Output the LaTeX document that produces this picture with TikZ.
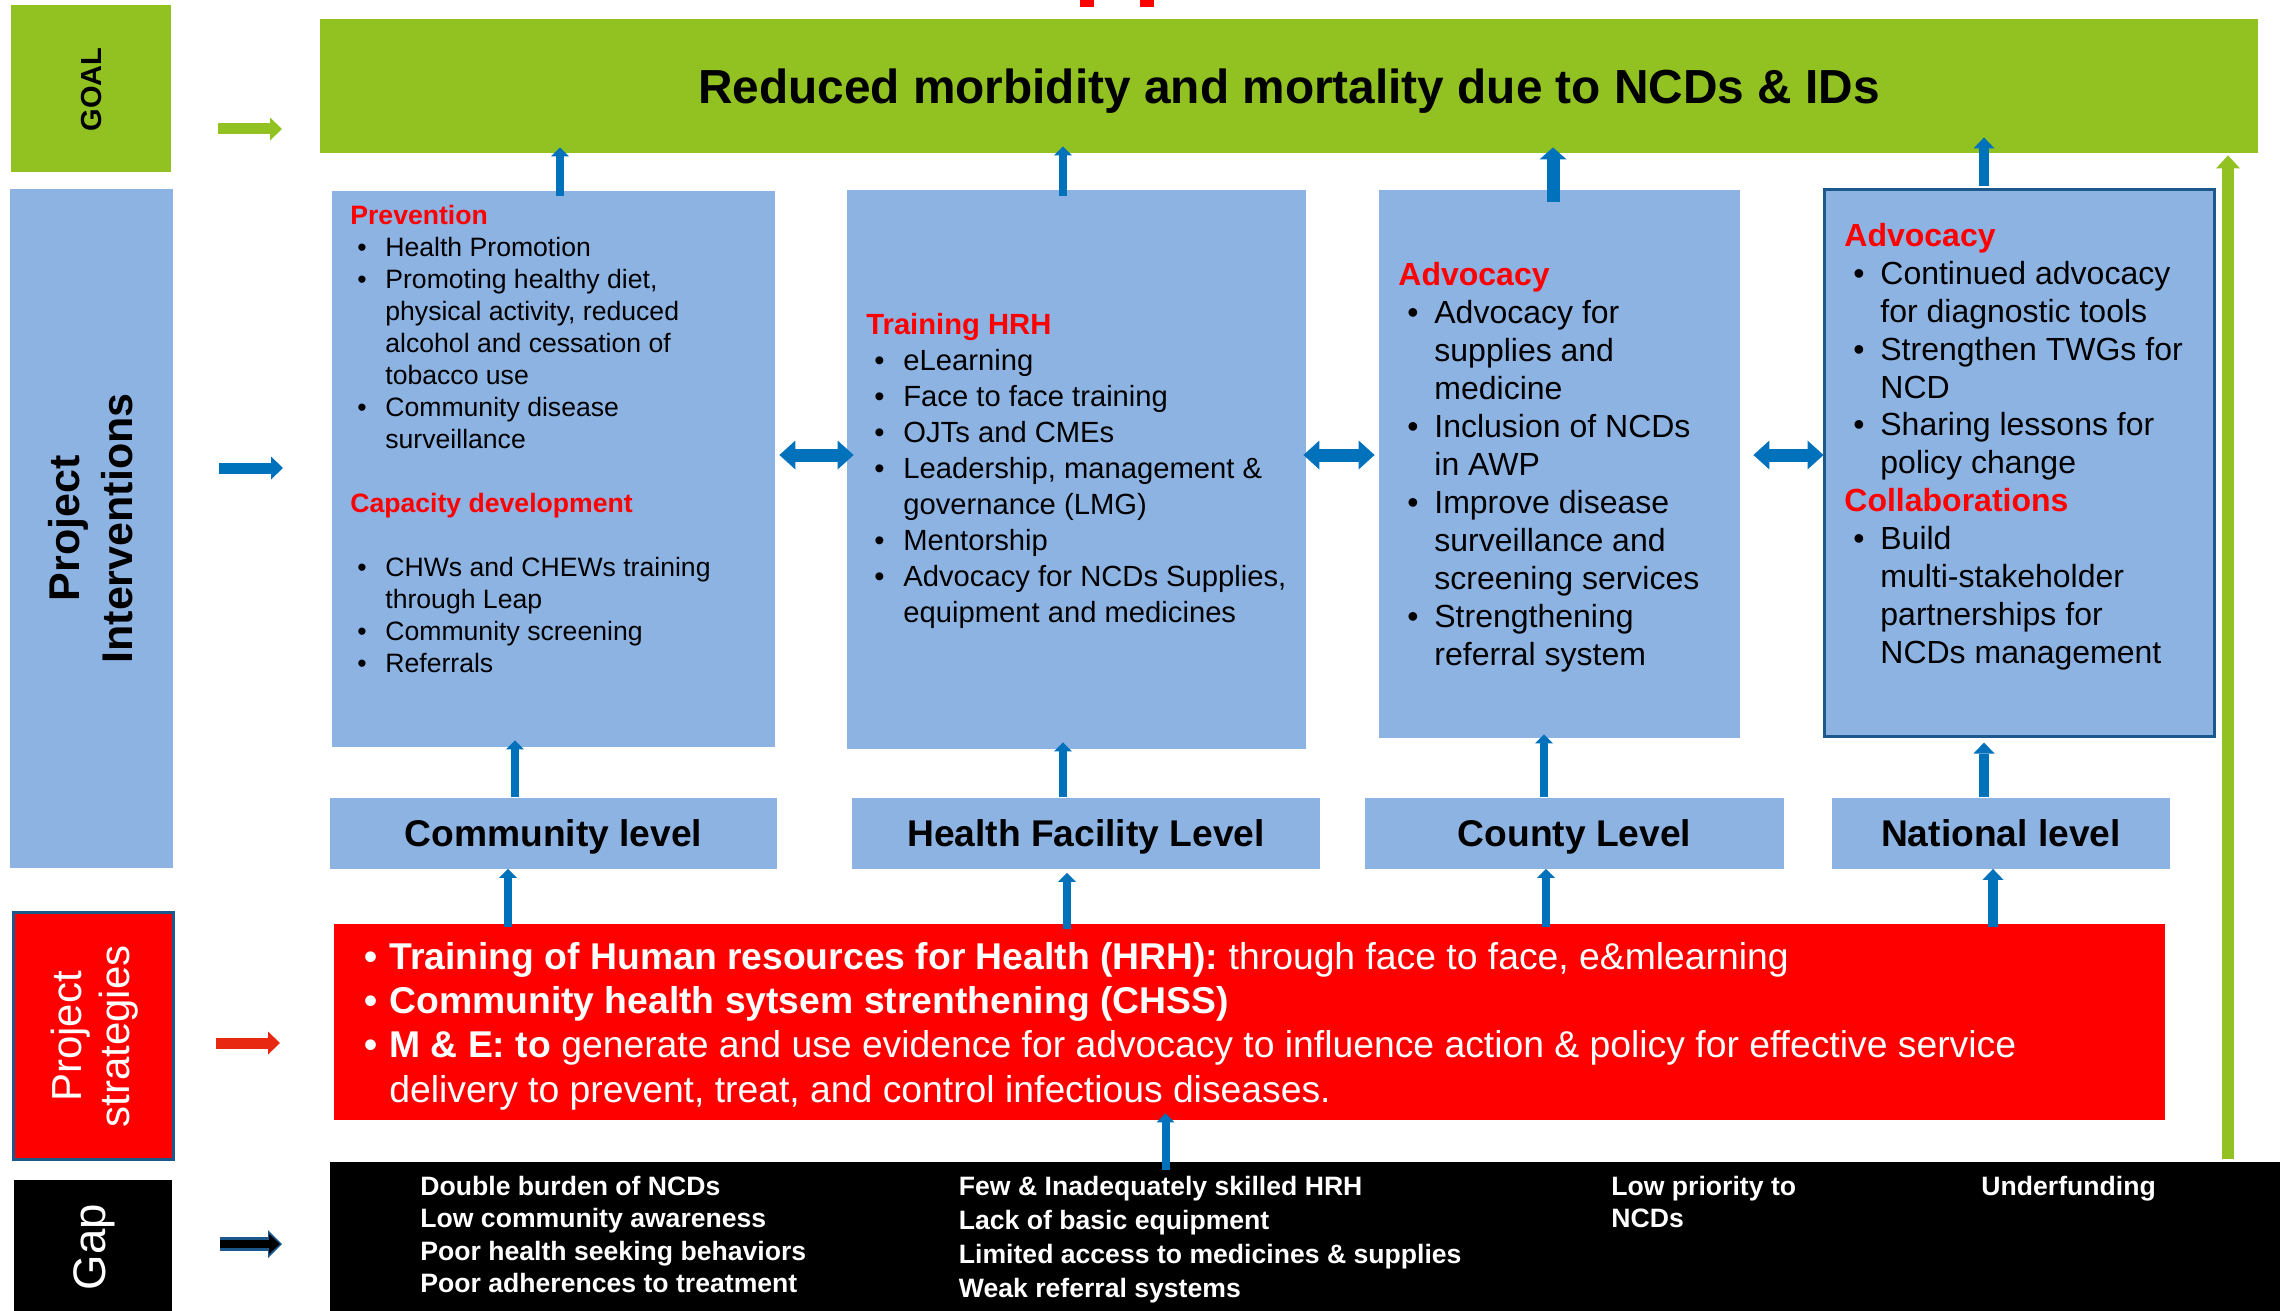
\documentclass[tikz,border=0pt]{standalone}
\usepackage{fontspec}
\setmainfont{Liberation Sans}
\usetikzlibrary{arrows.meta}

\definecolor{goalgreen}{RGB}{146,193,34}
\definecolor{boxblue}{RGB}{141,179,227}
\definecolor{arrowblue}{RGB}{0,114,188}
\definecolor{edgeblue}{RGB}{28,88,140}
\definecolor{stratarrow}{RGB}{232,40,16}

\newcommand{\hd}[1]{\multicolumn{2}{@{}l@{}}{\color{red}\bfseries #1}}

\tikzset{
  panel/.style={fill=boxblue, inner sep=0pt},
  lvlbox/.style={fill=boxblue, inner sep=0pt, minimum height=35.5pt,
    text height=13.3pt, text depth=0pt, font=\bfseries\fontsize{18.6}{22}\selectfont},
  listtext/.style={anchor=base west, inner sep=0pt},
  gaptext/.style={anchor=base west, inner sep=0pt, text=white,
    font=\bfseries\fontsize{13.3}{16.3}\selectfont},
  uparr/.style n args={3}{arrowblue, line width=#1,
    -{Triangle[length=#2, width=#3, line width=0pt]}},
  twoway/.style={arrowblue, line width=6.5pt,
    {Triangle[length=8pt, width=14.5pt, line width=0pt]}-{Triangle[length=8pt, width=14.5pt, line width=0pt]}},
  sidearr/.style={line width=5.5pt, -{Triangle[length=6pt, width=11.5pt, line width=0pt]}},
}

\begin{document}
\begin{tikzpicture}[x=0.5pt, y=-0.5pt]
    \useasboundingbox (0,0) rectangle (2280,1311);

    \fill[red] (1080,0) rectangle (1094,7);
    \fill[red] (1140,0) rectangle (1154,7);

    % row labels on the left
    \node[fill=goalgreen, inner sep=0pt, minimum width=80pt, minimum height=83.5pt] (goallbl) at (91,88.5) {};
    \node[rotate=90, inner sep=0pt, text height=10.4pt, text depth=0pt, font=\bfseries\fontsize{14.5}{17}\selectfont] (goaltxt) at (91,89.5) {GOAL};
    \node[panel, minimum width=81.5pt, minimum height=339.5pt] (intlbl) at (91.5,528.5) {};
    \node[rotate=90, align=center, inner sep=0pt, font=\bfseries\fontsize{21.5}{26.5}\selectfont] (inttxt) at (91,528.5) {Project\\Interventions};
    \node[fill=red, draw=edgeblue, line width=1.5pt, inner sep=0pt, minimum width=80pt, minimum height=123.5pt] (stratlbl) at (93,1035.5) {};
    \node[rotate=90, align=center, inner sep=0pt, text=white, font=\fontsize{21}{24}\selectfont] (strattxt) at (94.5,1036.5) {Project\\strategies};
    \node[fill=black, inner sep=0pt, minimum width=78.75pt, minimum height=65.75pt] (gaplbl) at (93,1245.5) {};
    \node[rotate=90, inner sep=0pt, text=white, text height=16.3pt, text depth=0pt, font=\fontsize{22.8}{27}\selectfont] (gaptxt) at (89,1247) {Gap};

    \coordinate (ga) at (218,129);   \coordinate (gb) at (282,129);
    \coordinate (ia) at (219,468);   \coordinate (ib) at (283,468);
    \coordinate (sa) at (216,1043);  \coordinate (sb) at (280,1043);
    \coordinate (pa) at (220,1244);  \coordinate (pb) at (282,1244);
    \draw[sidearr, goalgreen] (ga) -- (gb);
    \draw[sidearr, arrowblue] (ia) -- (ib);
    \draw[sidearr, stratarrow] (sa) -- (sb);
    \draw[edgeblue, line width=7pt, -{Triangle[length=7pt, width=14pt, line width=0pt]}] (pa) -- (pb);
    \draw[black, line width=4pt, -{Triangle[length=5.5pt, width=10pt, line width=0pt]}] (pa) -- ([xshift=-1pt]pb);

    % goal
    \node[fill=goalgreen, inner sep=0pt, minimum width=969pt, minimum height=67pt,
        text height=17.1pt, text depth=0pt, font=\bfseries\fontsize{23.9}{28}\selectfont] (goalbar) at (1289,86)
        {Reduced morbidity and mortality due to NCDs \& IDs};

    % interventions
    \node[panel, minimum width=221.5pt, minimum height=278pt] (prev) at (553.5,469) {};
    \node[panel, minimum width=229.5pt, minimum height=279.5pt] (train) at (1076.5,469.5) {};
    \node[panel, minimum width=180.5pt, minimum height=274pt] (advo) at (1559.5,464) {};
    \node[panel, draw=edgeblue, line width=1.5pt, minimum width=195pt, minimum height=273.5pt] (natl) at (2019,462.5) {};

    \node[listtext, font=\fontsize{13.3}{16}\selectfont] (prevlist) at (350,224) {%
        \begin{tabular}[t]{@{\hspace{3.5pt}}p{14pt}@{}l@{}}
        \hd{Prevention}\\
        \textbullet & Health Promotion\\
        \textbullet & Promoting healthy diet,\\
        & physical activity, reduced\\
        & alcohol and cessation of\\
        & tobacco use\\
        \textbullet & Community disease\\
        & surveillance\\
        & \\
        \hd{Capacity development}\\
        & \\
        \textbullet & CHWs and CHEWs training\\
        & through Leap\\
        \textbullet & Community screening\\
        \textbullet & Referrals
        \end{tabular}};
    \node[listtext, font=\fontsize{14.6}{18}\selectfont] (trainlist) at (866,334.6) {%
        \begin{tabular}[t]{@{\hspace{4pt}}p{14.5pt}@{}l@{}}
        \hd{Training HRH}\\
        \textbullet & eLearning\\
        \textbullet & Face to face training\\
        \textbullet & OJTs and CMEs\\
        \textbullet & Leadership, management \&\\
        & governance (LMG)\\
        \textbullet & Mentorship\\
        \textbullet & Advocacy for NCDs Supplies,\\
        & equipment and medicines
        \end{tabular}};
    \node[listtext, font=\fontsize{16}{19}\selectfont] (advolist) at (1398,285) {%
        \begin{tabular}[t]{@{\hspace{4.5pt}}p{13.5pt}@{}l@{}}
        \hd{Advocacy}\\
        \textbullet & Advocacy for\\
        & supplies and\\
        & medicine\\
        \textbullet & Inclusion of NCDs\\
        & in AWP\\
        \textbullet & Improve disease\\
        & surveillance and\\
        & screening services\\
        \textbullet & Strengthening\\
        & referral system
        \end{tabular}};
    \node[listtext, font=\fontsize{16}{18.93}\selectfont] (natllist) at (1844,246.6) {%
        \begin{tabular}[t]{@{\hspace{4.5pt}}p{13.5pt}@{}l@{}}
        \hd{Advocacy}\\
        \textbullet & Continued advocacy\\
        & for diagnostic tools\\
        \textbullet & Strengthen TWGs for\\
        & NCD\\
        \textbullet & Sharing lessons for\\
        & policy change\\
        \hd{Collaborations}\\
        \textbullet & Build\\
        & multi-stakeholder\\
        & partnerships for\\
        & NCDs management
        \end{tabular}};

    \coordinate (m) at (0,455);
    \draw[twoway, shorten <=2pt, shorten >=-3.5pt] (prev.east |- m) -- (train.west |- m);
    \draw[twoway, shorten <=-1.5pt, shorten >=2pt] (train.east |- m) -- (advo.west |- m);
    \draw[twoway, shorten <=6.5pt, shorten >=-0.5pt] (advo.east |- m) -- (natl.west |- m);

    \coordinate (u1) at (560,0);  \coordinate (u2) at (1063,0);
    \coordinate (u3) at (1553,0); \coordinate (u4) at (1984,0);
    \draw[uparr={4pt}{4.5pt}{9pt}, shorten <=-2.5pt, shorten >=-3pt] (prev.north -| u1) -- (goalbar.south -| u1);
    \draw[uparr={4pt}{4.5pt}{9pt}, shorten <=-3pt, shorten >=-3.5pt] (train.north -| u2) -- (goalbar.south -| u2);
    \draw[uparr={6.5pt}{6pt}{13.5pt}, shorten <=-6pt, shorten >=-3pt] (advo.north -| u3) -- (goalbar.south -| u3);
    \draw[uparr={5pt}{5.5pt}{10.5pt}, shorten <=1pt, shorten >=-8pt] (natl.north -| u4) -- (goalbar.south -| u4);

    % levels
    \node[lvlbox, minimum width=223.5pt] (comlvl) at (553.5,833) {Community level};
    \node[lvlbox, minimum width=234pt] (hflvl) at (1086,833) {Health Facility Level};
    \node[lvlbox, minimum width=209.5pt] (cntylvl) at (1574.5,833) {County Level};
    \node[lvlbox, minimum width=169.25pt] (natlvl) at (2001,833) {National level};

    \coordinate (l1) at (515,0);  \coordinate (l2) at (1063,0);
    \coordinate (l3) at (1544,0); \coordinate (l4) at (1984,0);
    \draw[uparr={4pt}{4.5pt}{9pt}, shorten >=-3.5pt] (comlvl.north -| l1) -- (prev.south -| l1);
    \draw[uparr={4pt}{4.5pt}{9pt}, shorten >=-3.5pt] (hflvl.north -| l2) -- (train.south -| l2);
    \draw[uparr={4pt}{4.5pt}{9pt}, shorten >=-2pt] (cntylvl.north -| l3) -- (advo.south -| l3);
    \draw[uparr={5pt}{5.5pt}{10.5pt}, shorten >=2.5pt] (natlvl.north -| l4) -- (natl.south -| l4);

    % strategies
    \node[fill=red, inner sep=0pt, minimum width=915.5pt, minimum height=98pt] (strat) at (1249.5,1022) {};
    \node[listtext, text=white, font=\fontsize{18.65}{22.2}\selectfont] (stratlist) at (364,969) {%
        \begin{tabular}[t]{@{}p{12.5pt}@{}l@{}}
        \textbf{\textbullet} & \textbf{Training of Human resources for Health (HRH):} through face to face, e\&mlearning\\
        \textbf{\textbullet} & \textbf{Community health sytsem strenthening (CHSS)}\\
        \textbf{\textbullet} & \textbf{M \& E: to} generate and use evidence for advocacy to influence action \& policy for effective service\\
        & delivery to prevent, treat, and control infectious diseases.
        \end{tabular}};

    \coordinate (s1) at (508,0);  \coordinate (s2) at (1067,0);
    \coordinate (s3) at (1546,0); \coordinate (s4) at (1993,0);
    \draw[uparr={4pt}{4.5pt}{9pt}, shorten <=-1.5pt] (strat.north -| s1) -- (comlvl.south -| s1);
    \draw[uparr={4pt}{4.5pt}{9pt}, shorten <=-2.5pt, shorten >=2pt] (strat.north -| s2) -- (hflvl.south -| s2);
    \draw[uparr={4pt}{4.5pt}{9pt}, shorten <=-1.5pt] (strat.north -| s3) -- (cntylvl.south -| s3);
    \draw[uparr={5pt}{5.5pt}{10.5pt}, shorten <=-1.5pt] (strat.north -| s4) -- (natlvl.south -| s4);

    % gaps
    \node[fill=black, inner sep=0pt, minimum width=975pt, minimum height=74.5pt] (gapbar) at (1305,1236.5) {};
    \node[gaptext] (gap1) at (420,1195) {\begin{tabular}[t]{@{}l@{}}
        Double burden of NCDs\\ Low community awareness\\ Poor health seeking behaviors\\ Poor adherences to treatment
        \end{tabular}};
    \node[gaptext, font=\bfseries\fontsize{13.3}{17}\selectfont] (gap2) at (958.5,1195) {\begin{tabular}[t]{@{}l@{}}
        Few \& Inadequately skilled HRH\\ Lack of basic equipment\\ Limited access to medicines \& supplies\\ Weak referral systems
        \end{tabular}};
    \node[gaptext] (gap3) at (1611,1195) {\begin{tabular}[t]{@{}l@{}}
        Low priority to\\ NCDs
        \end{tabular}};
    \node[gaptext] (gap4) at (1981,1195) {Underfunding};

    \coordinate (g1) at (1165.5,0);
    \draw[uparr={4pt}{4.5pt}{9pt}, shorten <=-4pt, shorten >=-3.5pt] (gapbar.north -| g1) -- (strat.south -| g1);

    \coordinate (v) at (2228,0);
    \draw[goalgreen, line width=6pt, -{Triangle[length=6.5pt, width=12pt, line width=0pt]}, shorten <=1.5pt, shorten >=1pt]
        (gapbar.north -| v) -- (goalbar.south -| v);
\end{tikzpicture}
\end{document}
